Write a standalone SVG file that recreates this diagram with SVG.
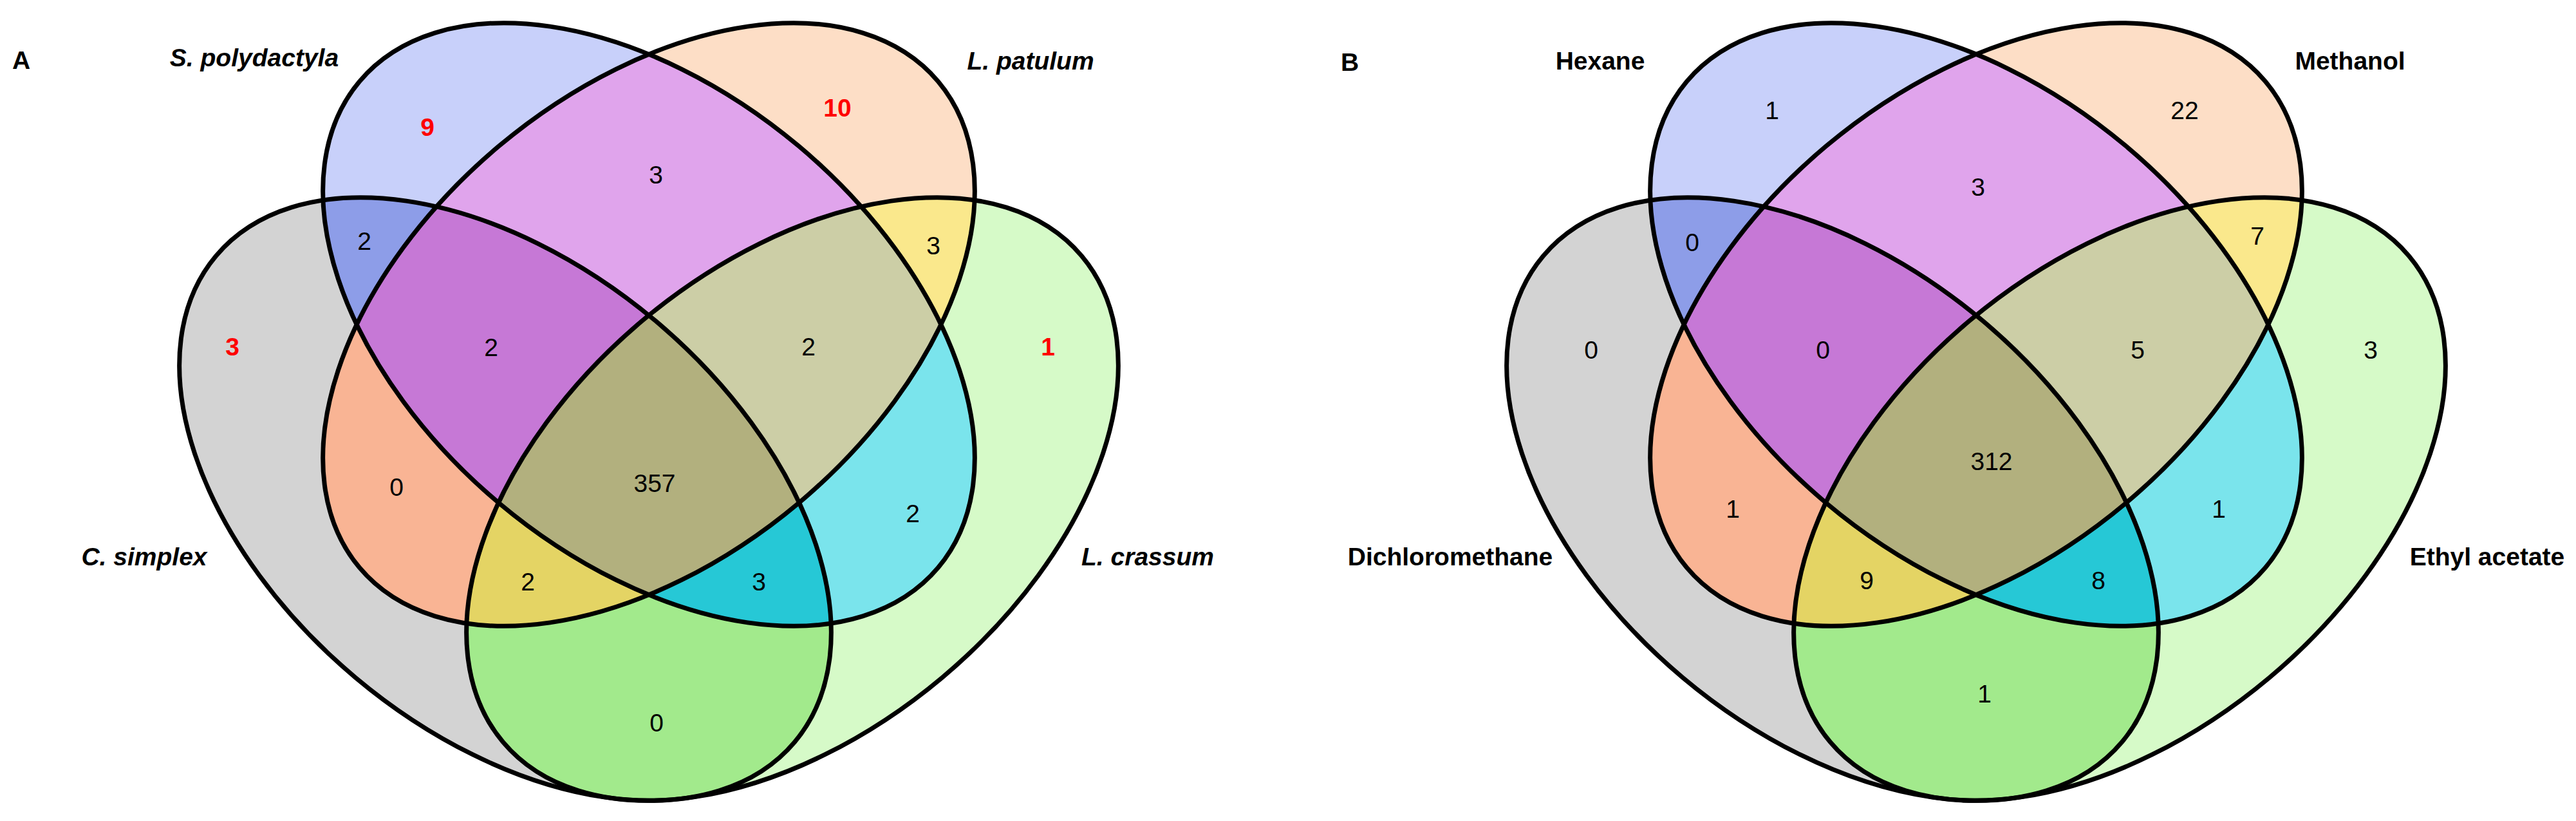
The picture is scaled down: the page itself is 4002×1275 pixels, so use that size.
<svg xmlns="http://www.w3.org/2000/svg" xmlns:xlink="http://www.w3.org/1999/xlink" width="4002" height="1275" viewBox="0 0 4002 1275">
<style>
.o{fill:none;stroke:#000;stroke-width:7}
.lab{font-family:"Liberation Sans",Arial,sans-serif;font-size:39px;font-weight:bold;text-anchor:middle;fill:#000}
.it{font-style:italic}
.n{font-family:"Liberation Sans",Arial,sans-serif;font-size:39px;text-anchor:middle;fill:#000}
.r{fill:#ff0000;font-weight:bold}
</style>
<defs>
<ellipse id="eGray" cx="785" cy="775" rx="587" ry="362" transform="rotate(40 785 775)"/>
<ellipse id="eBlue" cx="1008" cy="504" rx="587" ry="362" transform="rotate(40 1008 504)"/>
<ellipse id="eOrange" cx="1008" cy="504" rx="587" ry="362" transform="rotate(-40 1008 504)"/>
<ellipse id="eGreen" cx="1231" cy="775" rx="587" ry="362" transform="rotate(-40 1231 775)"/>
<clipPath id="cGray"><use href="#eGray"/></clipPath>
<clipPath id="cBlue"><use href="#eBlue"/></clipPath>
<clipPath id="cOrange"><use href="#eOrange"/></clipPath>
<g id="fills">
<use href="#eGray" fill="#d3d3d3"/>
<use href="#eGreen" fill="#d6fac8"/>
<use href="#eBlue" fill="#c8d0fa"/>
<use href="#eOrange" fill="#fddec6"/>
<g clip-path="url(#cGray)"><use href="#eBlue" fill="#8d9de8"/><use href="#eOrange" fill="#f9b494"/><use href="#eGreen" fill="#a2ea8c"/></g>
<g clip-path="url(#cBlue)"><use href="#eOrange" fill="#e0a4ec"/><use href="#eGreen" fill="#7ae4ec"/></g>
<g clip-path="url(#cOrange)"><use href="#eGreen" fill="#fae88c"/></g>
<g clip-path="url(#cGray)"><g clip-path="url(#cBlue)"><use href="#eOrange" fill="#c678d6"/><use href="#eGreen" fill="#26c8d6"/></g><g clip-path="url(#cOrange)"><use href="#eGreen" fill="#e4d464"/></g></g>
<g clip-path="url(#cBlue)"><g clip-path="url(#cOrange)"><use href="#eGreen" fill="#cccea6"/></g></g>
<g clip-path="url(#cGray)"><g clip-path="url(#cBlue)"><g clip-path="url(#cOrange)"><use href="#eGreen" fill="#b2b07e"/></g></g></g>
</g>
</defs>
<rect width="4002" height="1275" fill="#fff"/>

<g id="panelA">
<use href="#fills"/>
<g id="A-C-simplex"><use href="#eGray" class="o"/><text class="lab it" x="224" y="878">C. simplex</text></g>
<g id="A-L-crassum"><use href="#eGreen" class="o"/><text class="lab it" x="1783" y="878">L. crassum</text></g>
<g id="A-S-polydactyla"><use href="#eBlue" class="o"/><text class="lab it" x="395" y="103">S. polydactyla</text></g>
<g id="A-L-patulum"><use href="#eOrange" class="o"/><text class="lab it" x="1601" y="108">L. patulum</text></g>
<text class="lab" x="33" y="107">A</text>
<g id="A-counts">
<text class="n r" x="664" y="211">9</text>
<text class="n r" x="1301" y="181">10</text>
<text class="n" x="1019" y="285">3</text>
<text class="n" x="566" y="388">2</text>
<text class="n" x="1450" y="395">3</text>
<text class="n r" x="361" y="552">3</text>
<text class="n" x="763" y="553">2</text>
<text class="n" x="1256" y="552">2</text>
<text class="n r" x="1628" y="552">1</text>
<text class="n" x="616" y="770">0</text>
<text class="n" x="1017" y="764">357</text>
<text class="n" x="1418" y="811">2</text>
<text class="n" x="820" y="917">2</text>
<text class="n" x="1179" y="917">3</text>
<text class="n" x="1020" y="1136">0</text>
</g>
</g>

<g id="panelB">
<use href="#fills" transform="translate(2062,0)"/>
<g id="B-Dichloromethane"><use href="#eGray" class="o" transform="translate(2062,0)"/><text class="lab" x="2253" y="878">Dichloromethane</text></g>
<g id="B-Ethyl-acetate"><use href="#eGreen" class="o" transform="translate(2062,0)"/><text class="lab" x="3864" y="878">Ethyl acetate</text></g>
<g id="B-Hexane"><use href="#eBlue" class="o" transform="translate(2062,0)"/><text class="lab" x="2486" y="108">Hexane</text></g>
<g id="B-Methanol"><use href="#eOrange" class="o" transform="translate(2062,0)"/><text class="lab" x="3651" y="108">Methanol</text></g>
<text class="lab" x="2097" y="110">B</text>
<g id="B-counts">
<text class="n" x="2753" y="185">1</text>
<text class="n" x="3394" y="185">22</text>
<text class="n" x="3073" y="304">3</text>
<text class="n" x="2629" y="390">0</text>
<text class="n" x="3507" y="380">7</text>
<text class="n" x="2472" y="557">0</text>
<text class="n" x="2832" y="557">0</text>
<text class="n" x="3321" y="557">5</text>
<text class="n" x="3683" y="557">3</text>
<text class="n" x="3094" y="730">312</text>
<text class="n" x="2692" y="804">1</text>
<text class="n" x="3447" y="804">1</text>
<text class="n" x="2900" y="915">9</text>
<text class="n" x="3260" y="915">8</text>
<text class="n" x="3083" y="1091">1</text>
</g>
</g>
</svg>
